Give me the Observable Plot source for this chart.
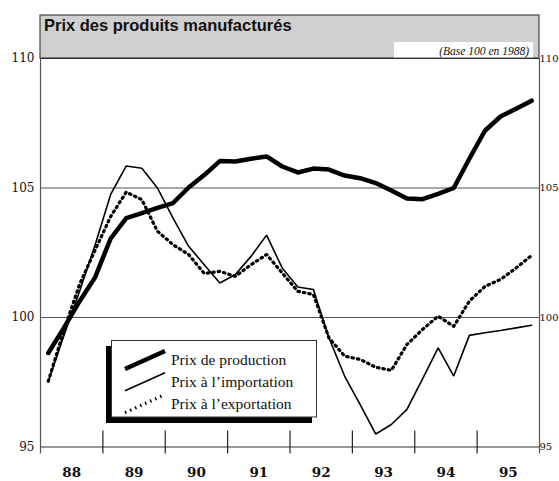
<!DOCTYPE html>
<html><head><meta charset="utf-8">
<script src="https://cdn.jsdelivr.net/npm/d3@7"></script>
<script src="https://cdn.jsdelivr.net/npm/@observablehq/plot@0.6"></script>
<style>
html,body{margin:0;padding:0;background:#fff;}
#chart{width:559px;height:481px;}
</style></head><body><div id="chart"></div>
<script>
const title = "Prix des produits manufacturés";
const subtitle = "(Base 100 en 1988)";
const years = [88, 89, 90, 91, 92, 93, 94, 95];
const yTicks = [95, 100, 105, 110];
const seriesNames = ["Prix de production", "Prix à l’importation", "Prix à l’exportation"];
// quarterly values, 1988 Q1 .. 1995 Q4
const production = [98.63, 99.6, 100.62, 101.55, 103.05, 103.84, 104.03, 104.23,
  104.42, 105.02, 105.5, 106.04, 106.02, 106.13, 106.22, 105.83,
  105.6, 105.75, 105.71, 105.48, 105.38, 105.19, 104.9, 104.59,
  104.57, 104.77, 105.0, 106.13, 107.21, 107.76, 108.06, 108.37];
const importation = [97.54, 99.3, 101.0, 102.8, 104.75, 105.85, 105.76, 105.0,
  103.84, 102.75, 102.04, 101.33, 101.66, 102.36, 103.18, 101.91,
  101.18, 101.08, 99.21, 97.74, 96.64, 95.5, 95.87, 96.45,
  97.63, 98.83, 97.74, 99.31, 99.41, 99.5, 99.6, 99.7];
const exportation = [97.54, 99.5, 101.27, 102.6, 103.9, 104.84, 104.55, 103.33,
  102.81, 102.43, 101.7, 101.78, 101.59, 102.04, 102.43, 101.72,
  101.01, 100.89, 99.21, 98.51, 98.38, 98.08, 97.96, 98.96,
  99.54, 100.05, 99.66, 100.63, 101.2, 101.47, 101.91, 102.4];

(function () {
const toRows = (arr) => arr.map((v, i) => ({t: years[0] + (i + 0.5) / 4, v}));
const boundaries = years.slice(1);
const xDomain = [years[0], years[years.length - 1] + 1];
const yDomain = [yTicks[0], yTicks[yTicks.length - 1]];
const dots = "1.5,4";

const serif = "'DejaVu Serif', serif";
const plot = Plot.plot({
  width: 559, height: 481,
  marginLeft: 40, marginRight: 20, marginTop: 58, marginBottom: 34.5,
  x: {domain: xDomain, axis: null},
  y: {domain: yDomain, axis: null},
  style: {background: "white", overflow: "visible"},
  marks: [
    Plot.ruleY(yTicks.slice(1, -1), {stroke: "#555", strokeWidth: 1}),
    Plot.ruleY([yDomain[0]], {stroke: "#333", strokeWidth: 1.2}),
    Plot.ruleY([yDomain[1]], {stroke: "#111", strokeWidth: 1.2}),
    Plot.ruleX(boundaries, {y1: yDomain[0], y2: yDomain[0], insetTop: -16, insetBottom: -7, stroke: "#222", strokeWidth: 1.2}),
    Plot.ruleX(xDomain, {y1: yDomain[1], y2: yDomain[0], insetBottom: -7, stroke: "#555", strokeWidth: 1.2}),
    Plot.line(toRows(exportation), {x: "t", y: "v", stroke: "black", strokeWidth: 3.2, strokeDasharray: dots}),
    Plot.line(toRows(importation), {x: "t", y: "v", stroke: "black", strokeWidth: 1.6, strokeLinejoin: "miter"}),
    Plot.line(toRows(production), {x: "t", y: "v", stroke: "black", strokeWidth: 4.5, strokeLinejoin: "round"}),
    Plot.text(yTicks, {x: xDomain[0], y: d => d, dx: -6, textAnchor: "end", fontFamily: serif, fontSize: 12, fill: "#111"}),
    Plot.text(yTicks, {x: xDomain[1], y: d => d, dx: 0, textAnchor: "start", fontFamily: serif, fontSize: 10, fill: "#111"}),
    Plot.text(years, {x: d => d + 0.5, y: yDomain[0], dy: 26, text: d => String(d), fontFamily: serif, fontSize: 13.5, fontWeight: "bold", fill: "#111"})
  ]
});
document.getElementById("chart").appendChild(plot);

const svg = d3.select(plot);
const xs = plot.scale("x"), ys = plot.scale("y");
const xLeft = xs.apply(xDomain[0]), xRight = xs.apply(xDomain[1]), yTop = ys.apply(yDomain[1]);

const head = svg.append("g").attr("text-anchor", "start");
head.append("rect").attr("x", xLeft).attr("y", 15).attr("width", xRight - xLeft).attr("height", yTop - 15)
  .attr("fill", "#d0d0d0").attr("stroke", "#444").attr("stroke-width", 1.2);
head.append("text").attr("x", xLeft + 4).attr("y", 31.3).attr("text-anchor", "start").text(title)
  .attr("font-family", "'Liberation Sans', Arial, sans-serif").attr("font-weight", "bold").attr("font-size", 16.5).attr("fill", "#111");
head.append("rect").attr("x", 394).attr("y", 42).attr("width", xRight - 6 - 394).attr("height", yTop - 42.6).attr("fill", "white");
head.append("text").attr("x", xRight - 10).attr("y", 54.5).attr("text-anchor", "end").text(subtitle)
  .attr("font-family", "'Liberation Serif', serif").attr("font-style", "italic").attr("font-size", 11.5).attr("fill", "#111");

const leg = svg.append("g").attr("text-anchor", "start");
leg.append("rect").attr("x", 106).attr("y", 346).attr("width", 206).attr("height", 77).attr("fill", "black");
leg.append("rect").attr("x", 111.5).attr("y", 340.5).attr("width", 205).attr("height", 76.5).attr("fill", "white").attr("stroke", "#333").attr("stroke-width", 1);
const styles = [
  {w: 4.5, dash: null},
  {w: 1.6, dash: null},
  {w: 3.2, dash: dots}
];
seriesNames.forEach((name, i) => {
  const yb = 369 + i * 21.8;
  const l = leg.append("line").attr("x1", 125).attr("y1", yb).attr("x2", 165).attr("y2", yb - 18)
    .attr("stroke", "black").attr("stroke-width", styles[i].w);
  if (styles[i].dash) l.attr("stroke-dasharray", styles[i].dash);
  leg.append("text").attr("x", 171).attr("y", 365 + i * 22).attr("text-anchor", "start").text(name)
    .attr("font-family", "'Liberation Serif', serif").attr("font-size", 15.5).attr("fill", "#111");
});
})();
</script></body></html>
